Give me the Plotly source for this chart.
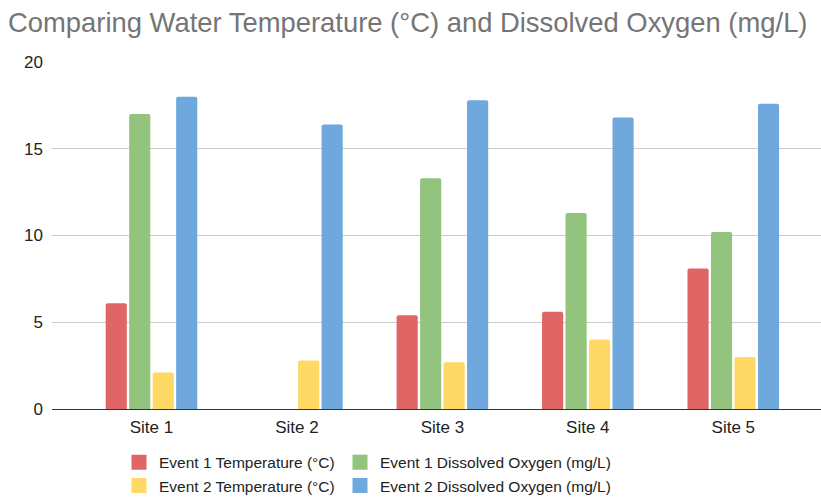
import plotly.graph_objects as go

sites = ["Site 1", "Site 2", "Site 3", "Site 4", "Site 5"]
event1_temp = [6.1, None, 5.4, 5.6, 8.1]
event1_do = [17.0, None, 13.3, 11.3, 10.2]
event2_temp = [2.1, 2.8, 2.7, 4.0, 3.0]
event2_do = [18.0, 16.4, 17.8, 16.8, 17.6]

series = [
    ("Event 1 Temperature (°C)", event1_temp, "#e06666", "legend"),
    ("Event 1 Dissolved Oxygen (mg/L)", event1_do, "#93c47d", "legend2"),
    ("Event 2 Temperature (°C)", event2_temp, "#ffd966", "legend"),
    ("Event 2 Dissolved Oxygen (mg/L)", event2_do, "#6fa8dc", "legend2"),
]

fig = go.Figure()
for name, vals, color, lg in series:
    fig.add_trace(go.Bar(
        x=sites, y=vals, name=name, legendgroup=name, showlegend=False,
        marker=dict(color=color, line=dict(width=0)),
    ))
# legend entries with square swatches
for name, vals, color, lg in series:
    fig.add_trace(go.Scatter(
        x=[None], y=[None], mode="markers", name=name, legend=lg,
        legendgroup=name, showlegend=True, hoverinfo="skip",
        marker=dict(symbol="square", size=15, color=color, line=dict(width=0)),
    ))

font_family = "Liberation Sans, Arial, sans-serif"
leg_common = dict(
    orientation="v", xanchor="left", yanchor="top",
    font=dict(family=font_family, size=15.5, color="#222222"),
    bgcolor="rgba(0,0,0,0)", traceorder="normal",
)
fig.update_layout(
    width=821, height=501,
    margin=dict(l=52, r=0, t=62, b=92, autoexpand=False),
    paper_bgcolor="white", plot_bgcolor="white",
    barmode="group", bargap=0.354, bargroupgap=0.1,
    barcornerradius=2,
    title=dict(
        text="Comparing Water Temperature (°C) and Dissolved Oxygen (mg/L)",
        font=dict(family=font_family, size=27.4, color="#757575"),
        x=8/821, xanchor="left", xref="container",
        y=1 - 22/501, yanchor="middle", yref="container",
    ),
    xaxis=dict(
        range=[-0.684, 4.603], showgrid=False,
        showline=True, linecolor="#333333", linewidth=1,
        ticks="", ticklabelstandoff=3,
        tickfont=dict(family=font_family, size=17, color="#222222"),
        fixedrange=True,
    ),
    yaxis=dict(
        range=[0, 20], tickvals=[0, 5, 10, 15, 20],
        showgrid=True, gridcolor="#cccccc", gridwidth=1,
        zeroline=False, showline=False,
        ticklabelstandoff=8,
        tickfont=dict(family=font_family, size=17, color="#222222"),
        ticks="",
    ),
    legend=dict(x=(119-52)/769, y=-0.106, **leg_common),
    legend2=dict(x=(340-52)/769, y=-0.106, **leg_common),
    showlegend=True,
)

fig.write_html("out.html")
